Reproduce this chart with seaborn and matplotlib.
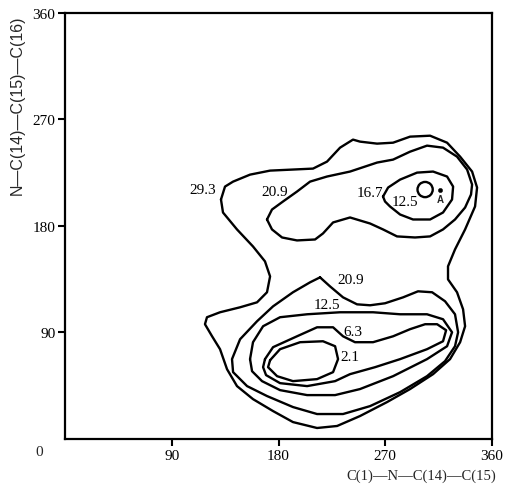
import numpy as np
import pandas as pd
import matplotlib
matplotlib.use('Agg')
import matplotlib.pyplot as plt
import seaborn as sns

# Conformational energy map: torsion angles (deg)
c29_3_x = [131.5, 134.9, 141.7, 156.0, 172.9, 192.2, 209.1, 220.9, 231.9, 242.8, 248.7, 263.1,
           276.6, 290.9, 307.8, 322.1, 333.1, 343.2, 347.4, 345.7, 337.3, 328.8, 322.9, 322.9,
           330.5, 335.6, 337.3, 333.1, 324.6, 310.3, 290.9, 271.5, 248.7, 229.4, 212.5, 192.2,
           175.4, 158.5, 145.0, 136.6, 130.7, 124.0, 118.0, 119.7, 130.7, 147.6, 161.9, 170.3,
           172.9, 168.6, 158.5, 145.0, 133.2]
c29_3_y = [202.4, 213.3, 217.5, 223.4, 226.8, 227.7, 228.5, 234.4, 246.2, 253.0, 251.3, 249.6,
           250.4, 255.5, 256.3, 250.4, 238.6, 226.0, 212.5, 196.5, 177.1, 160.2, 145.9, 134.9,
           124.0, 109.6, 95.3, 81.8, 67.5, 54.8, 42.2, 31.2, 19.4, 11.0, 9.3, 14.3,
           23.6, 33.7, 44.7, 59.0, 75.9, 86.8, 97.0, 102.9, 107.1, 111.3, 115.5, 124.0,
           137.4, 150.1, 162.7, 177.1, 191.4]

c20_9a_x = [170.3, 174.5, 183.0, 195.6, 210.8, 217.5, 226.0, 240.3, 257.2, 268.1, 279.9, 295.1,
            307.8, 318.7, 328.8, 337.3, 342.3, 343.2, 339.0, 330.5, 318.7, 305.2, 290.9, 276.6,
            263.1, 240.3, 220.9, 206.6, 195.6, 183.8, 174.5]
c20_9a_y = [185.5, 177.1, 170.3, 167.8, 168.6, 173.7, 183.0, 187.2, 182.1, 177.1, 171.2, 170.3,
            171.2, 177.1, 185.5, 195.6, 206.6, 215.0, 227.7, 238.6, 246.2, 247.9, 242.8, 236.1,
            233.6, 226.0, 221.8, 217.5, 209.1, 200.7, 193.9]

c16_7_x = [268.1, 272.4, 282.5, 296.8, 310.3, 322.1, 327.2, 326.3, 318.7, 307.8, 293.4, 282.5,
           274.0, 269.8]
c16_7_y = [204.9, 212.5, 219.2, 225.1, 226.0, 221.8, 213.3, 202.4, 191.4, 185.5, 185.5, 189.7,
           196.5, 200.7]

c20_9b_x = [215.0, 206.6, 192.2, 175.4, 161.9, 147.6, 140.8, 141.7, 153.5, 170.3, 192.2, 212.5,
            234.4, 257.2, 282.5, 305.2, 320.4, 328.8, 331.4, 328.8, 320.4, 309.5, 297.6, 285.0,
            269.8, 257.2, 246.2, 234.4, 223.4]
c20_9b_y = [136.6, 132.4, 124.0, 112.1, 99.5, 84.3, 67.5, 56.5, 44.7, 36.3, 27.0, 21.1,
            21.1, 27.8, 39.6, 53.1, 65.8, 78.4, 90.2, 105.4, 116.4, 124.0, 124.8, 119.7,
            114.7, 113.0, 113.8, 119.7, 129.0]

c12_5_x = [156.0, 158.5, 167.0, 181.3, 204.1, 231.9, 259.7, 282.5, 305.2, 318.7, 326.3, 322.1,
           305.2, 276.6, 248.7, 227.7, 204.1, 181.3, 166.1, 157.7]
c12_5_y = [67.5, 81.8, 95.3, 102.9, 105.4, 107.1, 107.1, 105.4, 105.4, 101.2, 90.2, 78.4,
           67.5, 53.1, 42.2, 37.1, 37.1, 41.3, 48.9, 57.3]

c6_3_x = [168.6, 175.4, 195.6, 212.5, 226.0, 234.4, 244.5, 259.7, 276.6, 290.9, 303.6, 313.7,
          321.3, 318.7, 305.2, 282.5, 261.4, 240.3, 227.7, 204.1, 181.3, 169.5, 167.0]
c6_3_y = [67.5, 77.6, 86.8, 94.4, 94.4, 86.8, 81.8, 81.8, 86.8, 92.8, 97.0, 97.0,
          91.9, 82.6, 75.9, 67.5, 60.7, 54.8, 48.9, 44.7, 47.2, 54.0, 60.7]

c2_1_x = [172.9, 181.3, 198.2, 217.5, 227.7, 230.2, 226.0, 212.5, 192.2, 178.8, 171.2]
c2_1_y = [66.6, 75.9, 81.8, 82.6, 78.4, 67.5, 56.5, 50.6, 48.9, 53.1, 60.7]

# small 12.5 ring around the minimum, and conformation A
ring_x, ring_y = [303.6], [210.8]
point_a_x, point_a_y = [316.2], [210.8]

label_text = ['29.3', '20.9', '16.7', '12.5', '20.9', '12.5', '6.3', '2.1']
label_x = [116.4, 177.1, 257.2, 286.7, 241.2, 220.9, 242.8, 240.3]
label_y = [210.8, 209.1, 208.3, 200.7, 134.9, 113.8, 91.1, 70.0]

ticks = [90, 180, 270, 360]

contours = {
    '29.3': (c29_3_x, c29_3_y),
    '20.9a': (c20_9a_x, c20_9a_y),
    '16.7': (c16_7_x, c16_7_y),
    '20.9b': (c20_9b_x, c20_9b_y),
    '12.5': (c12_5_x, c12_5_y),
    '6.3': (c6_3_x, c6_3_y),
    '2.1': (c2_1_x, c2_1_y),
}

rows = []
for name, (xs, ys) in contours.items():
    # close each loop
    xs = list(xs) + [xs[0]]
    ys = list(ys) + [ys[0]]
    for i, (a, b) in enumerate(zip(xs, ys)):
        rows.append({'contour': name, 'order': i, 'phi': a, 'psi': b})
df = pd.DataFrame(rows)

sns.set_style('ticks')
plt.rcParams['font.family'] = ['Liberation Serif', 'DejaVu Serif']

fig = plt.figure(figsize=(5.05, 4.89), dpi=100)
ax = fig.add_axes([0.1287, 0.1002, 0.9743 - 0.1287, 0.9714 - 0.1002])

sns.lineplot(data=df, x='phi', y='psi', units='contour', estimator=None, sort=False,
             color='black', lw=1.7, ax=ax, legend=False)
for line in ax.lines:
    line.set_solid_joinstyle('round')

sns.scatterplot(x=ring_x, y=ring_y, ax=ax, marker='o', s=120, facecolor='none',
                edgecolor='black', linewidth=1.7, legend=False)
sns.scatterplot(x=point_a_x, y=point_a_y, ax=ax, marker='o', s=10, color='black',
                edgecolor='black', legend=False)
ax.text(point_a_x[0], 202.4, 'A', ha='center', va='center', fontsize=7, fontweight='bold',
        family=['Liberation Sans', 'DejaVu Sans'])

for t, x, y in zip(label_text, label_x, label_y):
    ax.text(x, y, t, ha='center', va='center', fontsize=11, color='black')

ax.set_xlim(0, 360)
ax.set_ylim(0, 360)
ax.set_xticks(ticks)
ax.set_yticks(ticks)
ax.set_xticklabels([str(t) for t in ticks])
ax.set_yticklabels([str(t) for t in ticks])
ax.tick_params(direction='out', length=5, width=1.5, labelsize=11, colors='black', pad=2)
ax.text(-0.06, -0.03, '0', transform=ax.transAxes, ha='center', va='center', fontsize=11)

for s in ax.spines.values():
    s.set_linewidth(1.6)
    s.set_color('black')

ax.set_xlabel('C(1)—N—C(14)—C(15)', fontsize=10.5, ha='right')
ax.xaxis.set_label_coords(1.01, -0.07)
ax.set_ylabel('N—C(14)—C(15)—C(16)', fontsize=11.5, ha='right',
              family=['Liberation Sans', 'DejaVu Sans'])
ax.yaxis.set_label_coords(-0.094, 0.997)

fig.savefig('out.png', dpi=100)
